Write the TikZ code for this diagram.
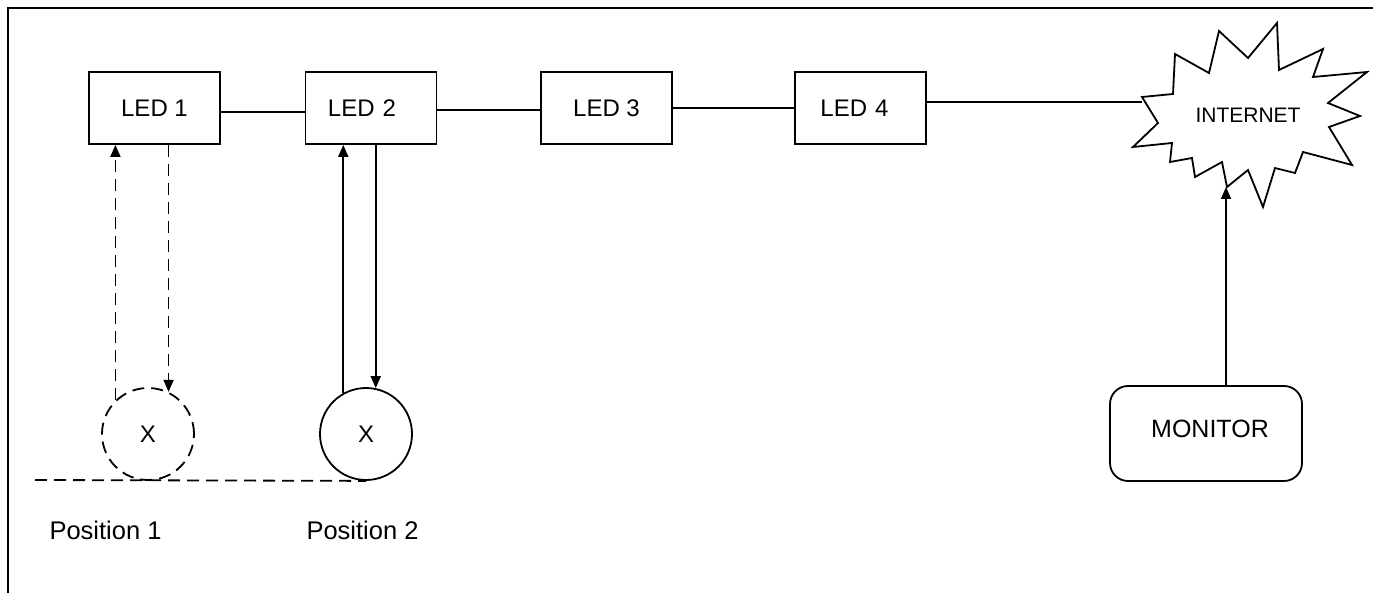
\documentclass[tikz,border=0pt]{standalone}
\usepackage{fontspec}
\setmainfont{Liberation Sans}
\usetikzlibrary{arrows.meta}
\begin{document}
\begin{tikzpicture}[x=1pt,y=-1pt,
  every node/.style={font=\fontsize{24}{27}\selectfont},
  ledbox/.style={draw,line width=1.8pt,minimum width=131pt,minimum height=72pt,inner sep=0pt},
  wheel/.style={draw,circle,line width=1.8pt,minimum size=92pt,inner sep=0pt},
  wire/.style={line width=1.8pt},
  arr/.style={line width=1.8pt,-{Triangle[length=12pt,width=10pt]}},
  dsh/.style={dash pattern=on 12pt off 7pt},
  lbl/.style={inner sep=0pt}
]
\useasboundingbox (0,0) rectangle (1373,593);
% frame (partly cropped)
\draw[line width=2.2pt] (1373,8) -- (8,8) -- (8,593);

% LED boxes
\node[ledbox] (led1) at (154.5,108) {LED 1};
\node[ledbox,text width=131pt,align=center] (led2) at (371,108) {\hspace*{-18pt}LED 2};
\node[ledbox] (led3) at (606.5,108) {LED 3};
\node[ledbox,text width=131pt,align=center] (led4) at (860.5,108) {\hspace*{-12pt}LED 4};

% INTERNET starburst
\draw[line width=1.8pt,fill=white,line join=miter] (1142,97) -- (1173,94) -- (1175,54) -- (1209,73) -- (1219,31) -- (1248,58) -- (1277,23) -- (1279,70) -- (1323,49) -- (1313,77) -- (1367,72) -- (1328,103) -- (1360,116) -- (1329,127) -- (1352,165) -- (1303,152) -- (1295,173) -- (1275,168) -- (1263,207) -- (1248,170) -- (1227,187) -- (1222,162) -- (1195,177) -- (1192,158) -- (1170,162) -- (1172,143) -- (1133,147) -- (1158,123) -- cycle;
\node[lbl,font=\fontsize{21}{24}\selectfont] (inet) at (1248,115) {INTERNET};
\coordinate (inetL) at (1142,102);
\coordinate (inetB) at (1226,187);

% MONITOR
\node[draw,line width=1.8pt,rounded corners=18pt,minimum width=192pt,minimum height=95pt,inner sep=0pt] (mon) at (1206,433.5) {};
\node[lbl,font=\fontsize{25}{28}\selectfont] (montxt) at (1210,429) {MONITOR};

% connectors between LEDs
\draw[wire] ([yshift=-4pt]led1.east) -- ([yshift=-4pt]led2.west);
\draw[wire] ([yshift=-2pt]led2.east) -- ([yshift=-2pt]led3.west);
\draw[wire] (led3.east) -- (led4.west);
\draw[wire] ([yshift=6pt]led4.east) -- (inetL);
\draw[arr] (mon.north -| inetB) -- (inetB);

% wheels
\node[wheel,dsh] (c1) at (148,434) {X};
\node[wheel] (c2) at (366,434) {X};
\coordinate (gl) at (35,480);
\draw[line width=1.8pt,dsh] (gl) -- (c2.south);

% arrows LED1 (dashed) and LED2 (solid)
\draw[arr,dsh] (c1.134) -- (c1.134 |- led1.south);
\draw[arr,dsh] (led1.south -| c1.64.5) -- (c1.64.5);
\draw[arr] (c2.119.6) -- (c2.119.6 |- led2.south);
\draw[arr] (led2.south -| c2.78.8) -- (c2.78.8);

% labels
\node[lbl,font=\fontsize{25.5}{28}\selectfont] (p1) at (105.5,530) {Position 1};
\node[lbl,font=\fontsize{25.5}{28}\selectfont] (p2) at (362.5,530) {Position 2};
\end{tikzpicture}
\end{document}
